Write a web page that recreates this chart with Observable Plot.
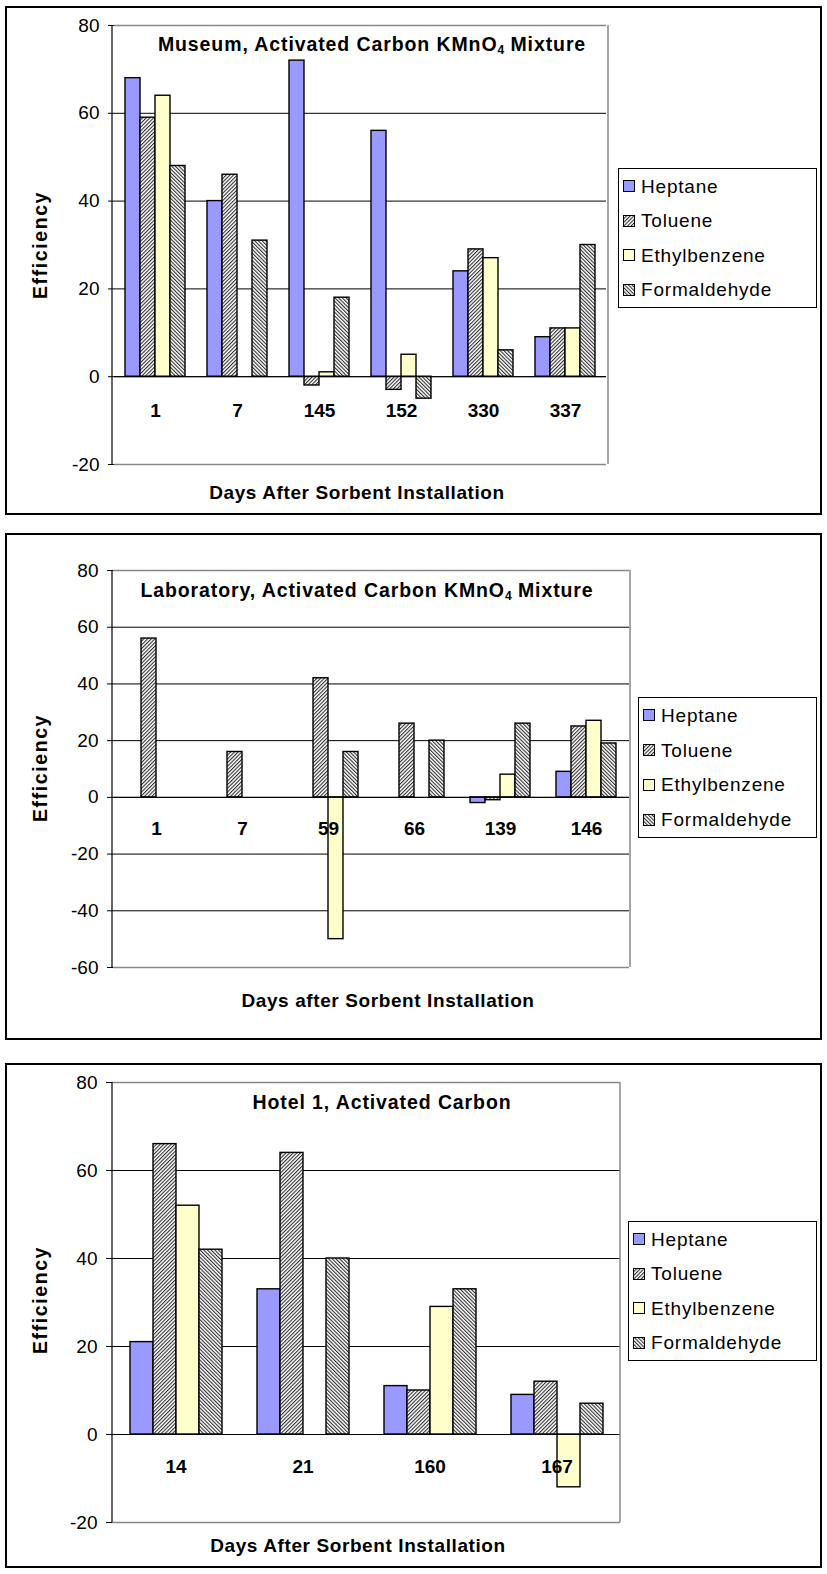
<!DOCTYPE html>
<html><head><meta charset="utf-8">
<script src="https://cdn.jsdelivr.net/npm/d3@7"></script>
<script src="https://cdn.jsdelivr.net/npm/@observablehq/plot@0.6"></script>
<style>
body{margin:0;background:#fff;font-family:Arial,"Liberation Sans",sans-serif;color:#000;}
.chart{position:absolute;left:5px;width:813px;border:2px solid #000;background:#fff;}
.chart svg.plot{position:absolute;left:0;top:0;}
.legend{position:absolute;border:1px solid #000;background:#fff;box-sizing:border-box;display:flex;flex-direction:column;justify-content:space-around;padding:0 0 0 4px;}
.legend .item{display:flex;align-items:center;font-size:19px;line-height:21px;letter-spacing:0.8px;}
.legend .item svg{margin-right:6px;}
.title{position:absolute;font-weight:bold;font-size:19.5px;letter-spacing:0.9px;white-space:nowrap;transform:translate(-50%,-50%);}
.title sub{font-size:12px;vertical-align:-3px;letter-spacing:0;}
.xtitle{position:absolute;font-weight:bold;font-size:19px;letter-spacing:0.6px;white-space:nowrap;transform:translate(-50%,-50%);}
.ytitle{position:absolute;font-weight:bold;font-size:19.5px;letter-spacing:1.6px;white-space:nowrap;transform:translate(-50%,-50%) rotate(-90deg);}
</style>
</head><body>
<svg width="0" height="0" style="position:absolute">
<defs>
<pattern id="patTol" width="2.6" height="2.6" patternUnits="userSpaceOnUse" patternTransform="rotate(45)"><rect width="2.6" height="2.6" fill="#fff"/><rect width="1.1" height="2.6" fill="#333"/></pattern>
<pattern id="patForm" width="2.6" height="2.6" patternUnits="userSpaceOnUse" patternTransform="rotate(-45)"><rect width="2.6" height="2.6" fill="#fff"/><rect width="1.1" height="2.6" fill="#333"/></pattern>
</defs>
</svg>
<div id="root"></div>
<script>
// ---- data ----
const chemicals = ["Heptane", "Toluene", "Ethylbenzene", "Formaldehyde"];
const chemFills = ["#9999FF", "url(#patTol)", "#FFFFCC", "url(#patForm)"];

const museumDays = ["1", "7", "145", "152", "330", "337"];
const museumHeptane = [68, 40, 72, 56, 24, 9];
const museumToluene = [59, 46, -2, -3, 29, 11];
const museumEthylbenzene = [64, null, 1, 5, 27, 11];
const museumFormaldehyde = [48, 31, 18, -5, 6, 30];
const museumTicks = [-20, 0, 20, 40, 60, 80];

const labDays = ["1", "7", "59", "66", "139", "146"];
const labHeptane = [null, null, null, null, -2, 9];
const labToluene = [56, 16, 42, 26, -1, 25];
const labEthylbenzene = [null, null, -50, null, 8, 27];
const labFormaldehyde = [null, null, 16, 20, 26, 19];
const labTicks = [-60, -40, -20, 0, 20, 40, 60, 80];

const hotelDays = ["14", "21", "160", "167"];
const hotelHeptane = [21, 33, 11, 9];
const hotelToluene = [66, 64, 10, 12];
const hotelEthylbenzene = [52, null, 29, -12];
const hotelFormaldehyde = [42, 40, 33, 7];
const hotelTicks = [-20, 0, 20, 40, 60, 80];

const charts = [
  {title: 'Museum, Activated Carbon KMnO<sub>4</sub> Mixture', xTitle: "Days After Sorbent Installation",
   days: museumDays, series: [museumHeptane, museumToluene, museumEthylbenzene, museumFormaldehyde], ticks: museumTicks,
   box: {top: 6, height: 505}, width: 605, mt: 17, mb: 49, po: 0.70, labelDy: 34,
   titlePos: [372, 45], xTitlePos: [357, 493], yTitlePos: [40, 245], legend: {left: 618, top: 168, width: 199, height: 140}},
  {title: 'Laboratory, Activated Carbon KMnO<sub>4</sub> Mixture', xTitle: "Days after Sorbent Installation",
   days: labDays, series: [labHeptane, labToluene, labEthylbenzene, labFormaldehyde], ticks: labTicks,
   box: {top: 533, height: 503}, width: 627, mt: 35, mb: 71, po: 0.70, labelDy: 32,
   titlePos: [367, 591], xTitlePos: [388, 1001], yTitlePos: [40, 768], legend: {left: 638, top: 697, width: 179, height: 141}},
  {title: 'Hotel 1, Activated Carbon', xTitle: "Days After Sorbent Installation",
   days: hotelDays, series: [hotelHeptane, hotelToluene, hotelEthylbenzene, hotelFormaldehyde], ticks: hotelTicks,
   box: {top: 1063, height: 501}, width: 617, mt: 17, mb: 44, po: 0.76, labelDy: 32,
   titlePos: [382, 1102], xTitlePos: [358, 1546], yTitlePos: [40, 1300], legend: {left: 628, top: 1221, width: 189, height: 140}}
];

const root = document.getElementById("root");
const ML = 105, MR = 4;

for (const c of charts) {
  const box = document.createElement("div");
  box.className = "chart";
  box.style.top = c.box.top + "px";
  box.style.height = c.box.height + "px";
  root.appendChild(box);
  const ox = 7, oy = c.box.top + 2;

  const ymin = c.ticks[0], ymax = c.ticks[c.ticks.length - 1];
  const inner = c.ticks.filter(t => t !== ymin && t !== ymax);
  const barMarks = chemicals.map((chem, i) => {
    const rows = c.days.map((d, j) => ({day: d, chem, value: c.series[i][j]})).filter(r => r.value != null);
    return Plot.barY(rows, {fx: "day", x: "chem", y: "value", fill: chemFills[i], stroke: "#000", strokeWidth: 1.4});
  });

  const plot = Plot.plot({
    width: c.width, height: c.box.height,
    marginLeft: ML, marginRight: MR, marginTop: c.mt, marginBottom: c.mb,
    style: {fontFamily: "Arial, 'Liberation Sans', sans-serif", fontSize: "19px", color: "#000", background: "transparent", overflow: "visible"},
    fx: {domain: c.days, padding: 0, axis: null},
    x: {domain: chemicals, paddingInner: 0, paddingOuter: c.po, axis: null},
    y: {domain: [ymin, ymax], axis: null},
    marks: [
      Plot.gridY(inner, {stroke: "#000", strokeOpacity: 1, strokeWidth: 1}),
      Plot.ruleY([ymin, ymax], {stroke: "#888", strokeWidth: 1.5}),
      ...barMarks,
      Plot.ruleY([0], {stroke: "#000", strokeWidth: 1}),
      Plot.text(c.days, {fx: d => d, y: () => 0, dy: c.labelDy, text: d => d, fontWeight: "bold", fontSize: 19}),
      Plot.axisY(c.ticks, {anchor: "left", tickSize: 6, tickPadding: 9, fontSize: 19, label: null, tickFormat: d => String(d)})
    ]
  });
  plot.classList.add("plot");
  box.appendChild(plot);
  const svg = d3.select(plot);
  const y0 = c.mt, y1 = c.box.height - c.mb;
  svg.append("line").attr("x1", c.width - MR).attr("x2", c.width - MR).attr("y1", y0).attr("y2", y1).attr("stroke", "#888").attr("stroke-width", 1.5);
  svg.append("line").attr("x1", ML).attr("x2", ML).attr("y1", y0).attr("y2", y1).attr("stroke", "#000").attr("stroke-width", 1.2);

  const addText = (cls, html, pos) => {
    const el = document.createElement("div");
    el.className = cls;
    el.innerHTML = html;
    el.style.left = (pos[0] - ox) + "px";
    el.style.top = (pos[1] - oy) + "px";
    box.appendChild(el);
  };
  addText("title", c.title, c.titlePos);
  addText("xtitle", c.xTitle, c.xTitlePos);
  addText("ytitle", "Efficiency", c.yTitlePos);

  const lg = document.createElement("div");
  lg.className = "legend";
  lg.style.left = (c.legend.left - ox) + "px";
  lg.style.top = (c.legend.top - oy) + "px";
  lg.style.width = c.legend.width + "px";
  lg.style.height = c.legend.height + "px";
  chemicals.forEach((chem, i) => {
    const it = document.createElement("div");
    it.className = "item";
    it.innerHTML = `<svg width="12" height="12"><rect x="0.5" y="0.5" width="11" height="11" fill="${chemFills[i]}" stroke="#000" stroke-width="1"/></svg><span>${chem}</span>`;
    lg.appendChild(it);
  });
  box.appendChild(lg);
}
</script>
</body></html>
